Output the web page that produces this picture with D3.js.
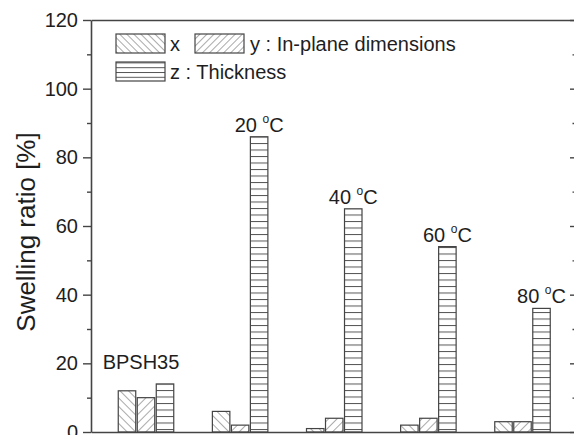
<!DOCTYPE html>
<html>
<head>
<meta charset="utf-8">
<script src="https://cdn.jsdelivr.net/npm/d3@7"></script>
<style>
  body { margin: 0; background: #fff; }
  svg { display: block; font-family: Arial, "Liberation Sans", sans-serif; }
</style>
</head>
<body>
<svg id="chart" width="574" height="435"></svg>
<script>
// Swelling ratio of the membrane along each direction
const groups = ["BPSH35", "20", "40", "60", "80"];
const seriesKeys = ["x", "y", "z"];
const xValues = [12, 6, 1, 2, 3];   // in-plane x
const yValues = [10, 2, 4, 4, 3];   // in-plane y
const zValues = [14, 86, 65, 54, 36]; // thickness
const yTicks = [0, 20, 40, 60, 80, 100, 120];
const yMinorTicks = [10, 30, 50, 70, 90, 110];
const legendLabels = ["x", "y : In-plane dimensions", "z : Thickness"];
const yTitle = "Swelling ratio [%]";

const seriesValues = { x: xValues, y: yValues, z: zValues };
const ink = "#1e1e1e";
const lineCol = "#444";

const svg = d3.select("#chart");
const defs = svg.append("defs");

// hatch patterns: backslash, slash, horizontal lines
function diagPattern(id, angle, gap) {
  const p = defs.append("pattern")
    .attr("id", id).attr("patternUnits", "userSpaceOnUse")
    .attr("width", gap).attr("height", gap)
    .attr("patternTransform", `rotate(${angle})`);
  p.append("line").attr("x1", 0).attr("y1", 0).attr("x2", 0).attr("y2", gap)
    .attr("stroke", "#555").attr("stroke-width", 1);
}
function horizPattern(id, gap) {
  const p = defs.append("pattern")
    .attr("id", id).attr("patternUnits", "userSpaceOnUse")
    .attr("width", 10).attr("height", gap);
  p.append("line").attr("x1", 0).attr("y1", 0.5).attr("x2", 10).attr("y2", 0.5)
    .attr("stroke", "#555").attr("stroke-width", 1);
}
diagPattern("hx", -45, 6);
diagPattern("hy", 45, 6);
horizPattern("hz", 6.5);
diagPattern("lx", -45, 5);
diagPattern("ly", 45, 5);
horizPattern("lz", 4.8);
const fillBar = { x: "url(#hx)", y: "url(#hy)", z: "url(#hz)" };
const fillLeg = { x: "url(#lx)", y: "url(#ly)", z: "url(#lz)" };

const yScale = d3.scaleLinear().domain([0, 120]).range([432, 20]);
const gx = d3.scalePoint().domain(groups).range([146, 522.5]);
const sub = d3.scaleBand().domain(seriesKeys).range([-27.75, 27.75]).paddingInner(0.08);

// bars
groups.forEach((g, i) => {
  seriesKeys.forEach(k => {
    const v = seriesValues[k][i];
    svg.append("rect")
      .attr("x", gx(g) + sub(k))
      .attr("y", yScale(v))
      .attr("width", sub.bandwidth())
      .attr("height", yScale(0) - yScale(v))
      .attr("fill", fillBar[k])
      .attr("stroke", lineCol)
      .attr("stroke-width", 1.2);
  });
});

// group labels
groups.forEach((g, i) => {
  if (i === 0) {
    svg.append("text")
      .attr("x", gx(g) - 5).attr("y", yScale(zValues[i]) - 15)
      .attr("text-anchor", "middle").attr("font-size", 20).attr("fill", ink)
      .text(g);
  } else {
    const t = svg.append("text")
      .attr("x", gx(g) + sub("z") + sub.bandwidth() / 2)
      .attr("y", yScale(zValues[i]) - 5)
      .attr("text-anchor", "middle").attr("font-size", 20).attr("fill", ink);
    t.append("tspan").text(g + " ");
    t.append("tspan").attr("font-size", 12).attr("dy", -9).text("o");
    t.append("tspan").attr("dy", 9).text("C");
  }
});

// axes
function styleAxis(sel) {
  sel.selectAll("path").attr("stroke", lineCol).attr("stroke-width", 1.6);
  sel.selectAll("line").attr("stroke", lineCol).attr("stroke-width", 1.4);
  sel.selectAll("text").attr("fill", ink).attr("font-size", 20)
    .attr("font-family", "Arial, 'Liberation Sans', sans-serif");
}
const leftAxis = svg.append("g").attr("transform", "translate(91,0)")
  .call(d3.axisLeft(yScale).tickValues(yTicks).tickSize(8).tickSizeOuter(0).tickPadding(5));
styleAxis(leftAxis);
const leftMinor = svg.append("g").attr("transform", "translate(91,0)")
  .call(d3.axisLeft(yScale).tickValues(yMinorTicks).tickSize(4).tickSizeOuter(0).tickFormat(""));
styleAxis(leftMinor);
leftMinor.select(".domain").remove();

const rightAxis = svg.append("g").attr("transform", "translate(575,0)")
  .call(d3.axisLeft(yScale).tickValues(yTicks).tickSize(5).tickSizeOuter(0).tickFormat(""));
styleAxis(rightAxis);
const rightMinor = svg.append("g").attr("transform", "translate(575,0)")
  .call(d3.axisLeft(yScale).tickValues(yMinorTicks).tickSize(2.5).tickSizeOuter(0).tickFormat(""));
styleAxis(rightMinor);

const xEdge = d3.scaleLinear().domain([0, 1]).range([91, 576]);
const topAxis = svg.append("g").attr("transform", `translate(0,${yScale(120)})`)
  .call(d3.axisTop(xEdge).tickValues([]).tickSizeOuter(0));
styleAxis(topAxis);
const bottomAxis = svg.append("g").attr("transform", `translate(0,${yScale(0)})`)
  .call(d3.axisBottom(xEdge).tickValues([]).tickSizeOuter(0));
styleAxis(bottomAxis);

// y axis title
svg.append("text")
  .attr("transform", `translate(35,232) rotate(-90)`)
  .attr("text-anchor", "middle").attr("font-size", 26).attr("fill", ink)
  .text(yTitle);

// legend
const legendItems = [
  { key: "x", label: legendLabels[0], sx: 116, sy: 34, tx: 170 },
  { key: "y", label: legendLabels[1], sx: 195, sy: 34, tx: 250 },
  { key: "z", label: legendLabels[2], sx: 116, sy: 62, tx: 170 }
];
legendItems.forEach(d => {
  svg.append("rect").attr("x", d.sx).attr("y", d.sy).attr("width", 49).attr("height", 19)
    .attr("fill", fillLeg[d.key]).attr("stroke", lineCol).attr("stroke-width", 1.2);
  svg.append("text").attr("x", d.tx).attr("y", d.sy + 17)
    .attr("font-size", 20).attr("fill", ink).text(d.label);
});
</script>
</body>
</html>
